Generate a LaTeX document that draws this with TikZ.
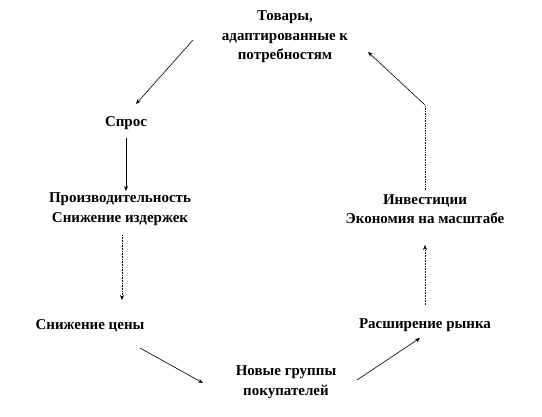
\documentclass[tikz,border=0pt]{standalone}
\usepackage{fontspec}
\setmainfont{Liberation Serif}
\usetikzlibrary{arrows.meta,calc}
\tikzset{
	stage/.style={inner sep=0pt, align=center, font=\fontsize{15}{19.5}\selectfont\bfseries},
	arr/.style={-{Stealth[length=5pt,width=4pt]}, line width=0.6pt},
	dots/.style={densely dotted, line width=0.7pt}
}
\begin{document}
\begin{tikzpicture}[x=1pt,y=-1pt]
		\useasboundingbox (0,0) rectangle (542,417);
		%Stages of the cycle
		\node[stage] (goods) at (285,37) {Товары,\\адаптированные к\\потребностям};
		\node[stage] (demand) at (126,123) {Спрос};
		\node[stage] (prod) at (120,209) {Производительность\\Снижение издержек};
		\node[stage] (price) at (90,326) {Снижение цены};
		\node[stage] (newgr) at (286,382) {Новые группы\\покупателей};
		\node[stage] (market) at (425,325) {Расширение рынка};
		\node[stage] (invest) at (425,209) {Инвестиции\\Экономия на масштабе};
		%Arrows between stages
		\draw[arr] ($(goods)+(-92,3)$) -- ($(demand)+(10,-19)$);
		\draw[arr] ($(demand)+(0,15)$) -- ($(prod)+(6,-18)$);
		\draw[arr,densely dotted] ($(prod)+(2,26)$) -- ($(prod)+(2,91)$);
		\draw[arr] ($(price)+(50,22)$) -- ($(newgr)+(-83,1)$);
		\draw[arr] ($(newgr)+(71,-2)$) -- ($(market)+(-5,13)$);
		\draw[arr,densely dotted] ($(market)+(0,-20)$) -- ($(invest)+(0,36)$);
		\coordinate (bend) at ($(invest)+(0,-104)$);
		\draw[dots] ($(invest)+(0,-19)$) -- (bend);
		\draw[arr] (bend) -- ($(goods)+(83,15)$);
\end{tikzpicture}
\end{document}
